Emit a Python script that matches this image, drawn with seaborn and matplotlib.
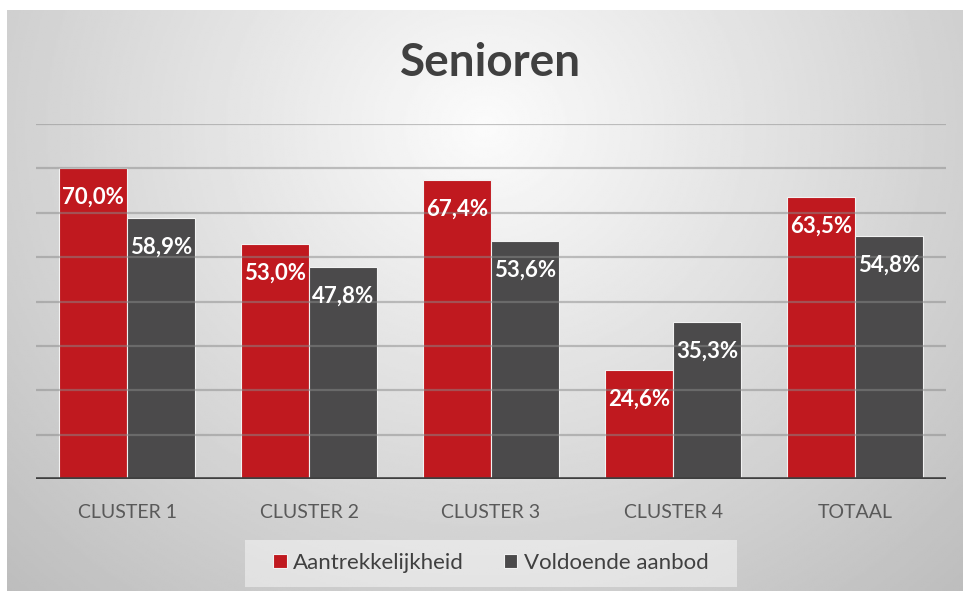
import numpy as np
import pandas as pd
import seaborn as sns
import matplotlib.pyplot as plt
from matplotlib.patches import Rectangle

# data
categories = ['CLUSTER 1', 'CLUSTER 2', 'CLUSTER 3', 'CLUSTER 4', 'TOTAAL']
aantrekkelijkheid = [70.0, 53.0, 67.4, 24.6, 63.5]
voldoende_aanbod = [58.9, 47.8, 53.6, 35.3, 54.8]
series_names = ['Aantrekkelijkheid', 'Voldoende aanbod']
colors = ['#C0191F', '#4B4A4B']

df = pd.DataFrame({
    'cluster': categories * 2,
    'serie': [series_names[0]] * len(categories) + [series_names[1]] * len(categories),
    'waarde': aantrekkelijkheid + voldoende_aanbod,
})

sns.set_theme(style='white')
plt.rcParams['font.family'] = ['Lato', 'DejaVu Sans']

fig = plt.figure(figsize=(9.63, 5.91), dpi=100)
fig.patch.set_facecolor('white')

# radial grey background like the office chart style
bg = fig.add_axes([7 / 963, 0, 1 - 7 / 963, 581 / 591], zorder=0)
yy, xx = np.mgrid[0:1:300j, 0:1:500j]
r = np.sqrt(((xx - 0.5) / 0.6) ** 2 + ((yy - 0.2) / 0.9) ** 2)
shade = np.clip(0.985 - 0.2 * r, 0, 1)
bg.imshow(shade, cmap='gray', vmin=0, vmax=1, aspect='auto', extent=[0, 1, 1, 0])
bg.set_axis_off()

# light box behind the legend
fig.patches.append(Rectangle((245 / 963, 1 - 587 / 591), 492 / 963, 47 / 591,
                             transform=fig.transFigure, facecolor='white',
                             alpha=0.45, edgecolor='none', zorder=0.5))

ax = fig.add_axes([36 / 963, 1 - 479 / 591, 910 / 963, (479 - 124) / 591], zorder=1)
ax.set_facecolor('none')

sns.barplot(data=df, x='cluster', y='waarde', hue='serie', palette=colors,
            saturation=1, width=0.75, edgecolor='#f2f2f2', linewidth=0.8,
            ax=ax, zorder=2)

ax.set_ylim(0, 80)
ax.set_yticks(range(10, 81, 10))
ax.set_yticklabels([])
ax.tick_params(axis='y', length=0)
for v in range(10, 81, 10):
    ax.axhline(v, color='#8a8a8a', alpha=0.5, linewidth=1.6, zorder=3)
ax.axhline(0, color='#3f3f3f', linewidth=2.6, zorder=4)

for side in ['top', 'right', 'left', 'bottom']:
    ax.spines[side].set_visible(False)

ax.set_xlabel('')
ax.set_ylabel('')
ax.tick_params(axis='x', length=0, pad=18, labelsize=14, labelcolor='#595959')

for cont in ax.containers:
    for bar in cont:
        h = bar.get_height()
        ax.annotate(f'{h:.1f}%'.replace('.', ','),
                    (bar.get_x() + bar.get_width() / 2, h),
                    xytext=(0, -21), textcoords='offset points',
                    ha='center', va='center', color='white',
                    fontsize=16, fontweight='bold', zorder=5)

ax.legend(loc='center', bbox_to_anchor=(491 / 963, 1 - 563 / 591),
          bbox_transform=fig.transFigure, ncol=2, frameon=False,
          handlelength=0.6, handleheight=0.6, handletextpad=0.3,
          columnspacing=1.8, fontsize=16, borderaxespad=0)
leg = ax.get_legend()
for t in leg.get_texts():
    t.set_color('#404040')

fig.text(491 / 963, 1 - 63 / 591, 'Senioren', ha='center', va='center',
         fontsize=33, fontweight='bold', color='#404040')

fig.savefig('out.png', dpi=100)
